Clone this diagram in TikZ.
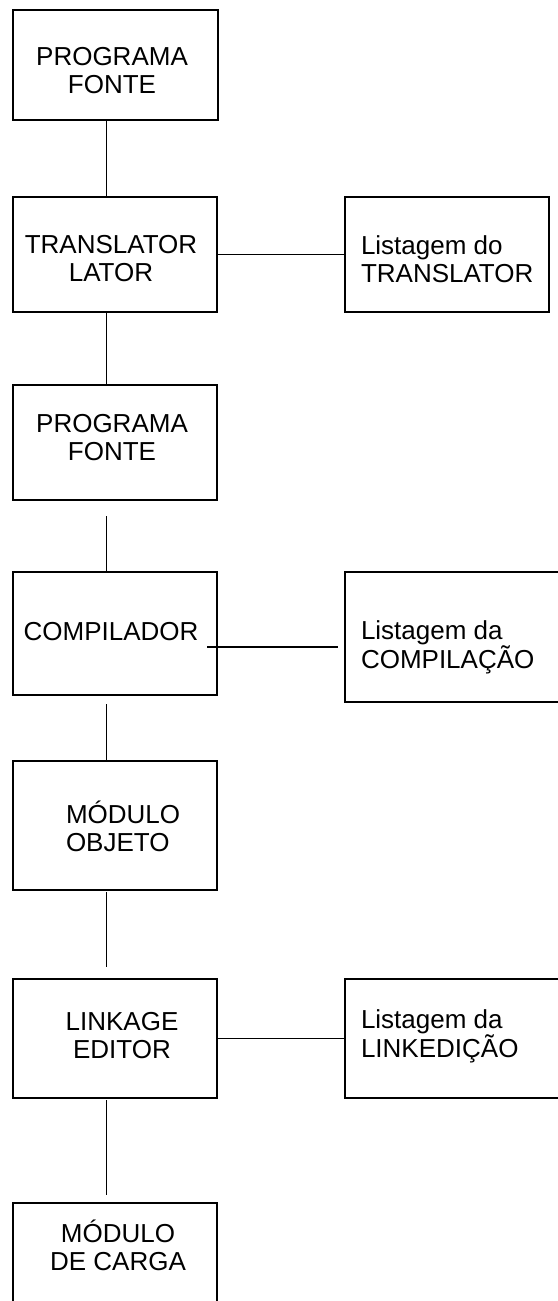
\documentclass[tikz,border=0pt]{standalone}
\usepackage{fontspec}
\setmainfont{Liberation Sans}
\usetikzlibrary{calc}
\tikzset{
  box/.style={draw, rectangle, line width=1.9pt, inner sep=0pt, outer sep=0pt},
  link/.style={line width=1.2pt},
  lbl/.style={font=\fontsize{26}{28}\selectfont, inner sep=0pt, outer sep=0pt},
  lblc/.style={lbl, align=center, anchor=center},
  lbll/.style={lbl, align=left, anchor=west}
}
\begin{document}
\begin{tikzpicture}[x=1pt, y=-1pt]
  \useasboundingbox (0,0) rectangle (557,1301);
  \fill[white] (0,0) rectangle (557,1301);
  \coordinate (spine) at (106.5,0);

  % main chain of boxes
  \node[box, minimum width=205pt, minimum height=110pt] (b1) at (115.5,65) {};
  \node[box, minimum width=204pt, minimum height=115pt] (b2) at (115,254.5) {};
  \node[box, minimum width=204pt, minimum height=115pt] (b3) at (115,442.5) {};
  \node[box, minimum width=204pt, minimum height=123pt] (b4) at (115,633.5) {};
  \node[box, minimum width=204pt, minimum height=129pt] (b5) at (115,825.5) {};
  \node[box, minimum width=204pt, minimum height=119pt] (b6) at (115,1038.5) {};
  \node[box, minimum width=204pt, minimum height=117pt] (b7) at (115,1261.5) {};

  % listing boxes on the right
  \node[box, minimum width=204pt, minimum height=115pt] (l2) at (447,254.5) {};
  \node[box, minimum width=220pt, minimum height=130pt] (l4) at (455,637) {};
  \node[box, minimum width=220pt, minimum height=119pt] (l6) at (455,1038.5) {};

  % texts
  \node[lblc] (t1) at (112,71) {PROGRAMA\\FONTE};
  \node[lblc] (t2) at (111,259) {TRANSLATOR\\LATOR};
  \node[lblc] (t3) at (112,437.5) {PROGRAMA\\FONTE};
  \node[lblc] (t4) at (111,632) {COMPILADOR};
  \node[lbll] (t5) at (66,826) {MÓDULO\\OBJETO};
  \node[lblc] (t6) at (122,1036) {LINKAGE\\EDITOR};
  \node[lblc] (t7) at (118,1245) {MÓDULO\\DE CARGA};
  \node[lbll] (tl2) at (361,259) {Listagem do\\TRANSLATOR};
  \node[lbll] (tl4) at (361,647.5) {Listagem da\\COMPILAÇÃO};
  \node[lbll] (tl6) at (361,1036) {Listagem da\\LINKEDIÇÃO};

  % vertical connectors
  \draw[link] (b1.south -| spine) -- (b2.north -| spine);
  \draw[link] (b2.south -| spine) -- (b3.north -| spine);
  \draw[link] ($(b3.south -| spine)+(0,16)$) -- (b4.north -| spine);
  \draw[link] ($(b4.south -| spine)+(0,9)$) -- (b5.north -| spine);
  \draw[link] ($(b5.south -| spine)+(0,2)$) -- ($(b6.north -| spine)+(0,-12)$);
  \draw[link] ($(b6.south -| spine)+(0,2)$) -- ($(b7.north -| spine)+(0,-8)$);

  % horizontal connectors
  \coordinate (h4) at (0,647);
  \draw[link] (b2.east) -- (l2.west);
  \draw[link] ($(b4.east |- h4)+(-10,0)$) -- ($(l4.west |- h4)+(-7,0)$);
  \draw[link] (b6.east) -- (l6.west);
\end{tikzpicture}
\end{document}
